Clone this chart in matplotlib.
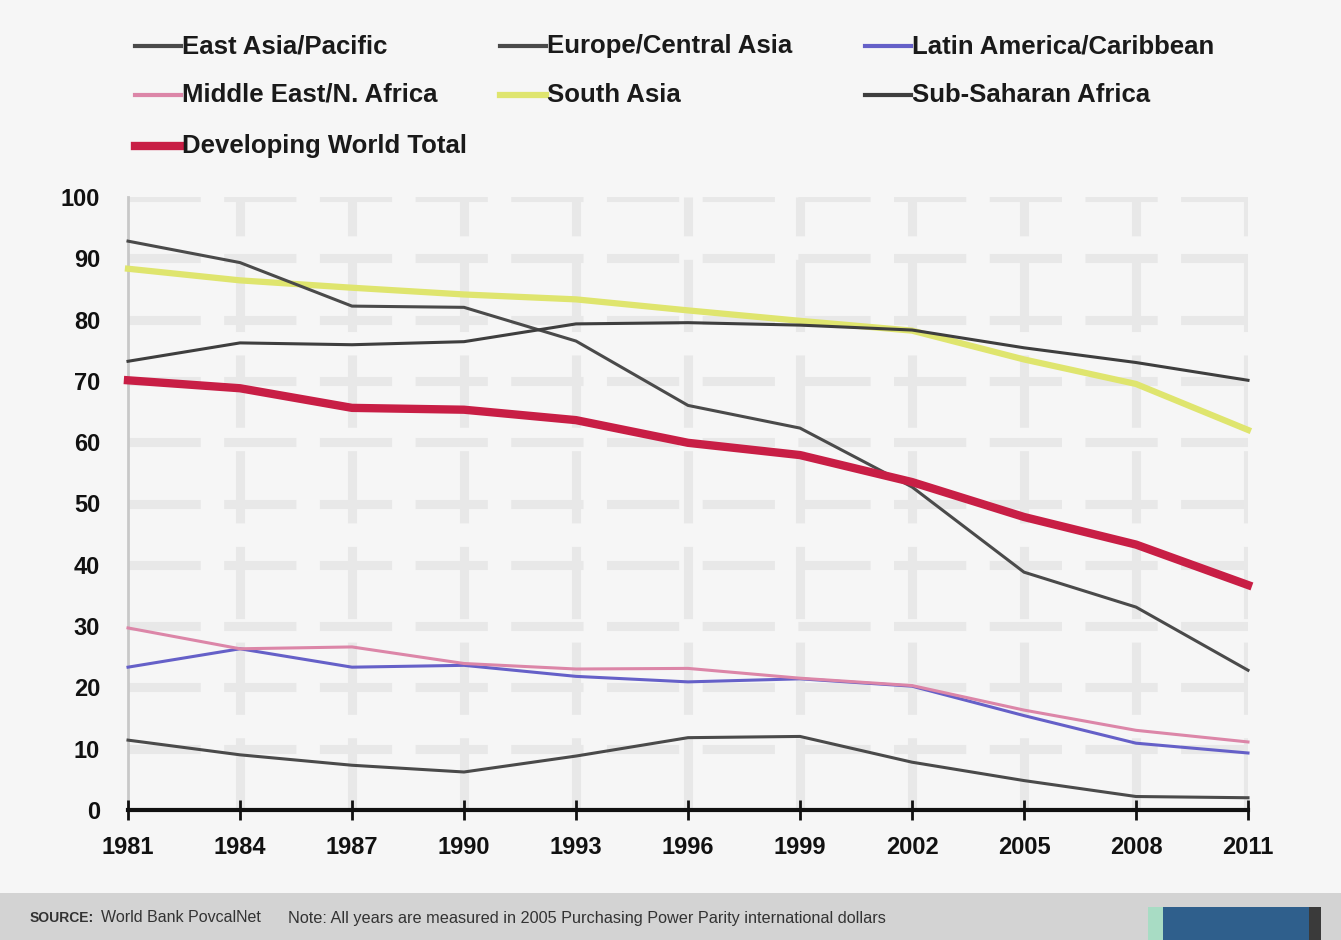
import matplotlib
matplotlib.use("Agg")
import matplotlib.pyplot as plt
from matplotlib.lines import Line2D
from matplotlib.patches import Rectangle

plt.rcParams["font.family"] = ["Liberation Sans", "DejaVu Sans"]

# $2/day poverty rate (% of population)
years = [1981, 1984, 1987, 1990, 1993, 1996, 1999, 2002, 2005, 2008, 2011]
east_asia = [92.8, 89.3, 82.2, 82.0, 76.5, 66.0, 62.3, 52.7, 38.8, 33.1, 22.8]
europe_ca = [11.4, 9.0, 7.3, 6.2, 8.8, 11.8, 12.0, 7.8, 4.8, 2.2, 2.0]
latin_am = [23.3, 26.3, 23.3, 23.6, 21.8, 20.9, 21.4, 20.2, 15.4, 10.9, 9.3]
mideast = [29.7, 26.3, 26.6, 23.9, 23.0, 23.1, 21.5, 20.3, 16.3, 13.0, 11.1]
south_asia = [88.3, 86.4, 85.2, 84.1, 83.3, 81.5, 79.8, 78.2, 73.5, 69.5, 62.0]
ssa = [73.2, 76.2, 75.9, 76.4, 79.3, 79.5, 79.1, 78.3, 75.4, 73.0, 70.1]
developing = [70.1, 68.8, 65.6, 65.3, 63.6, 59.9, 57.9, 53.5, 47.8, 43.3, 36.7]

series_names = ["East Asia/Pacific", "Europe/Central Asia", "Latin America/Caribbean",
                "Middle East/N. Africa", "South Asia", "Sub-Saharan Africa",
                "Developing World Total"]
y_ticks = [0, 10, 20, 30, 40, 50, 60, 70, 80, 90, 100]

colors = {
    "East Asia/Pacific": "#4a4a4a",
    "Europe/Central Asia": "#4a4a4a",
    "Latin America/Caribbean": "#6560c8",
    "Middle East/N. Africa": "#dc86a8",
    "South Asia": "#dfe56e",
    "Sub-Saharan Africa": "#3e3e3e",
    "Developing World Total": "#c81e45",
}
widths = {name: 2.2 for name in series_names}
widths["South Asia"] = 4.5
widths["Developing World Total"] = 6.0

values = {
    "East Asia/Pacific": east_asia,
    "Europe/Central Asia": europe_ca,
    "Latin America/Caribbean": latin_am,
    "Middle East/N. Africa": mideast,
    "South Asia": south_asia,
    "Sub-Saharan Africa": ssa,
    "Developing World Total": developing,
}

bg = "#f6f6f6"
fig = plt.figure(figsize=(13.41, 9.40), dpi=100, facecolor=bg)
ax = fig.add_axes([128 / 1341, 1 - 810 / 940, 1120 / 1341, 613 / 940])
ax.set_facecolor(bg)

# broken light-gray grid, drawn by hand so the ticks stay on top
grid_style = dict(color="#e8e8e8", lw=6.5, linestyle=(0, (8, 2.6)), zorder=1)
for yv in y_ticks[1:]:
    ax.axhline(yv, **grid_style)
for xv in years[1:]:
    ax.axvline(xv, **grid_style)

# draw south asia first so the gray lines sit over it
draw_order = ["South Asia", "East Asia/Pacific", "Europe/Central Asia",
              "Latin America/Caribbean", "Middle East/N. Africa",
              "Sub-Saharan Africa", "Developing World Total"]
for i, name in enumerate(draw_order):
    ax.plot(years, values[name], color=colors[name], lw=widths[name],
            zorder=3 + i, clip_on=False, solid_joinstyle="round")

ax.set_xlim(1981, 2011)
ax.set_ylim(0, 100)
ax.set_xticks(years)
ax.set_yticks(y_ticks)
ax.set_axisbelow(False)

for s in ["top", "right"]:
    ax.spines[s].set_visible(False)
ax.spines["left"].set_color("#c8c8c8")
ax.spines["left"].set_linewidth(2)
ax.spines["bottom"].set_color("#111111")
ax.spines["bottom"].set_linewidth(3)
ax.spines["bottom"].set_zorder(12)

ax.tick_params(axis="x", direction="inout", length=14, width=2, color="#111111",
               pad=12, labelsize=17)
ax.tick_params(axis="y", length=0, pad=20, labelsize=17)
for lab in ax.get_xticklabels() + ax.get_yticklabels():
    lab.set_fontweight("bold")
    lab.set_color("#111111")

# legend, laid out by hand in three columns
rows = [46, 95, 146]
cols = [135, 500, 865]
layout = [
    ("East Asia/Pacific", 0, 0), ("Europe/Central Asia", 0, 1),
    ("Latin America/Caribbean", 0, 2), ("Middle East/N. Africa", 1, 0),
    ("South Asia", 1, 1), ("Sub-Saharan Africa", 1, 2),
    ("Developing World Total", 2, 0),
]
W, H = 1341, 940
for name, r, c in layout:
    y = 1 - rows[r] / H
    x0 = cols[c] / W
    lw = 3.0 if name != "Developing World Total" else 6.0
    if name == "South Asia":
        lw = 4.5
    fig.add_artist(Line2D([x0, x0 + 46 / W], [y, y], color=colors[name], lw=lw))
    fig.text(x0 + 47 / W, y, name, fontsize=18.5, fontweight="bold",
             color="#1a1a1a", va="center", ha="left")

# footer band
fig.add_artist(Rectangle((0, 0), 1, 47 / H, transform=fig.transFigure,
                         facecolor="#d3d3d3", edgecolor="none"))
fy = 1 - 918 / H
fig.text(30 / W, fy, "SOURCE:", fontsize=10, fontweight="bold", color="#333333", va="center")
fig.text(101 / W, fy, "World Bank PovcalNet", fontsize=11.5, color="#333333", va="center")
fig.text(288 / W, fy,
         "Note: All years are measured in 2005 Purchasing Power Parity international dollars",
         fontsize=11.7, color="#333333", va="center")
fig.add_artist(Rectangle((1148 / W, 0), 15 / W, 33 / H, transform=fig.transFigure,
                         facecolor="#a8dcc4", edgecolor="none"))
fig.add_artist(Rectangle((1163 / W, 0), 146 / W, 33 / H, transform=fig.transFigure,
                         facecolor="#2f5f8c", edgecolor="none"))
fig.add_artist(Rectangle((1309 / W, 0), 12 / W, 33 / H, transform=fig.transFigure,
                         facecolor="#3a3a3a", edgecolor="none"))

fig.savefig("out.png", dpi=100, facecolor=bg)
